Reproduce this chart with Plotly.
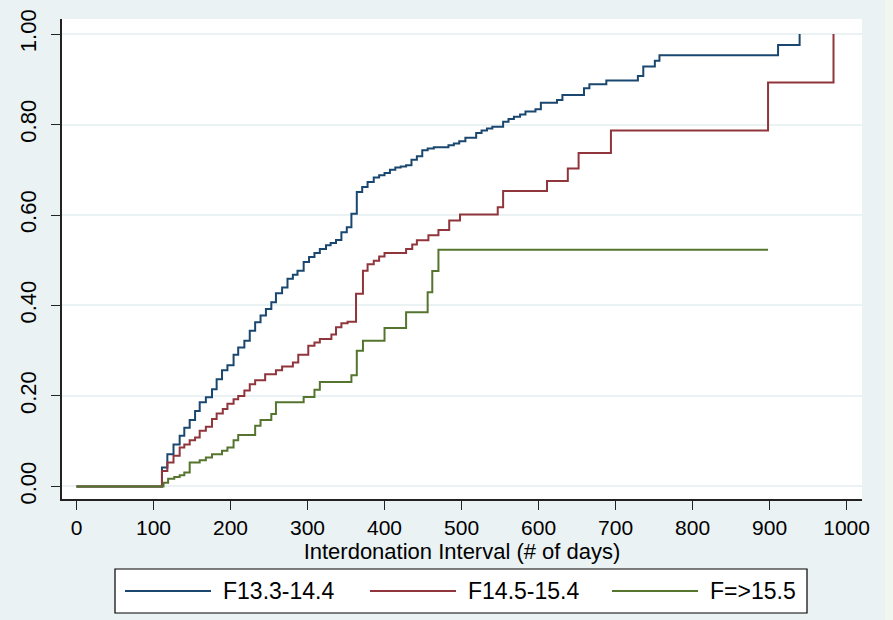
import plotly.graph_objects as go

# ---- data ----
days_a = [0, 111, 118, 126, 134, 140, 147, 154, 160, 168, 176, 182, 189, 196, 204, 210, 218, 225, 232,
          239, 246, 253, 259, 267, 274, 281, 287, 295, 302, 309, 316, 324, 330, 337, 344, 351, 357, 364,
          371, 378, 386, 393, 400, 407, 414, 421, 428, 435, 442, 449, 456, 464, 483, 490, 497, 505, 519,
          526, 533, 540, 554, 561, 568, 576, 583, 596, 603, 624, 631, 659, 666, 688, 729, 736, 751, 757,
          911, 939]
fail_a = [0, 0.042, 0.071, 0.093, 0.112, 0.130, 0.147, 0.167, 0.186, 0.197, 0.215, 0.237, 0.257, 0.268,
          0.291, 0.307, 0.322, 0.344, 0.363, 0.378, 0.392, 0.407, 0.427, 0.440, 0.459, 0.468, 0.477,
          0.496, 0.507, 0.516, 0.525, 0.533, 0.538, 0.545, 0.562, 0.573, 0.603, 0.651, 0.662, 0.673,
          0.683, 0.688, 0.693, 0.700, 0.705, 0.707, 0.710, 0.722, 0.730, 0.743, 0.747, 0.750, 0.754,
          0.758, 0.763, 0.771, 0.781, 0.787, 0.791, 0.795, 0.806, 0.812, 0.817, 0.822, 0.829, 0.834,
          0.848, 0.854, 0.865, 0.880, 0.889, 0.897, 0.907, 0.928, 0.941, 0.953, 0.976, 1.000]

days_b = [0, 111, 118, 126, 134, 140, 147, 154, 160, 168, 176, 182, 190, 196, 204, 210, 218, 225, 232,
          245, 259, 267, 281, 288, 301, 309, 316, 331, 337, 344, 352, 363, 372, 378, 386, 393, 400, 428,
          436, 442, 457, 470, 484, 498, 547, 554, 611, 638, 652, 694, 898, 983]
fail_b = [0, 0.034, 0.053, 0.068, 0.086, 0.093, 0.102, 0.108, 0.123, 0.132, 0.149, 0.161, 0.171, 0.183,
          0.193, 0.200, 0.212, 0.226, 0.235, 0.248, 0.257, 0.265, 0.274, 0.291, 0.311, 0.318, 0.326,
          0.336, 0.352, 0.361, 0.364, 0.426, 0.477, 0.491, 0.499, 0.508, 0.516, 0.525, 0.535, 0.544,
          0.555, 0.567, 0.588, 0.601, 0.617, 0.653, 0.675, 0.703, 0.737, 0.787, 0.893, 1.000]

days_c = [0, 113, 119, 127, 134, 140, 147, 160, 168, 176, 189, 196, 204, 210, 232, 239, 253, 259, 295,
          309, 316, 357, 364, 372, 400, 428, 456, 462, 470, 898]
fail_c = [0, 0.008, 0.017, 0.021, 0.025, 0.031, 0.053, 0.058, 0.064, 0.071, 0.079, 0.086, 0.102, 0.114,
          0.134, 0.147, 0.160, 0.186, 0.198, 0.214, 0.231, 0.246, 0.300, 0.322, 0.350, 0.385, 0.429,
          0.476, 0.523, 0.523]

series_names = ["F13.3-14.4", "F14.5-15.4", "F=>15.5"]
series_colors = ["#1A476F", "#90353B", "#55752F"]

x_ticks = [0, 100, 200, 300, 400, 500, 600, 700, 800, 900, 1000]
y_ticks = [0.0, 0.2, 0.4, 0.6, 0.8, 1.0]
x_title = "Interdonation Interval (# of days)"

FONT = "Liberation Sans, Arial, sans-serif"
BG = "#EAF2F4"

fig = go.Figure()
for xs, ys, name, col in zip([days_a, days_b, days_c], [fail_a, fail_b, fail_c], series_names, series_colors):
    fig.add_trace(go.Scatter(x=xs, y=ys, mode="lines", name=name, showlegend=False,
                             line=dict(color=col, width=2, shape="hv")))

W, H = 893, 620
ml, mr, mt, mb = 62, 31, 19, 121
pw, ph = W - ml - mr, H - mt - mb


def px(xp):
    return (xp - ml) / pw


def py(yp):
    return (H - mb - yp) / ph


shapes = [dict(type="rect", xref="paper", yref="paper", x0=px(885), x1=px(W) + 0.01,
               y0=py(H + 5), y1=py(-5), fillcolor="#F1F6EF", line=dict(width=0), layer="below")]
annotations = []

# legend box (bottom, one row)
shapes.append(dict(type="rect", xref="paper", yref="paper", x0=px(115), x1=px(807),
                   y0=py(613), y1=py(569), fillcolor="white", line=dict(color="black", width=1.2)))
leg_line_x = [125, 370, 612]
leg_y = 591
for lx, name, col in zip(leg_line_x, series_names, series_colors):
    shapes.append(dict(type="line", xref="paper", yref="paper", x0=px(lx), x1=px(lx + 86),
                       y0=py(leg_y), y1=py(leg_y), line=dict(color=col, width=2)))
    annotations.append(dict(xref="paper", yref="paper", x=px(lx + 96), y=py(leg_y), text=name,
                            showarrow=False, xanchor="left", yanchor="middle",
                            font=dict(size=23, family=FONT, color="black")))

fig.update_layout(
    width=W, height=H,
    margin=dict(l=ml, r=mr, t=mt, b=mb, pad=0, autoexpand=False),
    paper_bgcolor=BG, plot_bgcolor="white",
    font=dict(family=FONT, color="black", size=20),
    showlegend=False,
    xaxis=dict(range=[-18.8, 1020], tickmode="array", tickvals=x_ticks,
               ticktext=[str(v) for v in x_ticks], showgrid=False, zeroline=False,
               showline=True, linecolor="#222", linewidth=1.5, ticks="outside", ticklen=9,
               tickcolor="#222", tickwidth=1.3, tickfont=dict(size=21, family=FONT),
               title=dict(text=x_title, font=dict(size=22, family=FONT), standoff=0),
               automargin=False),
    yaxis=dict(range=[-0.0277, 1.0332], tickmode="array", tickvals=y_ticks,
               ticktext=["%.2f" % v for v in y_ticks], showgrid=True, gridcolor=BG, gridwidth=1.5,
               zeroline=False, showline=True, linecolor="#222", linewidth=1.5, ticks="outside",
               ticklen=9, tickcolor="#222", tickwidth=1.3, tickangle=-90, ticklabelstandoff=6,
               tickfont=dict(size=22, family=FONT), automargin=False),
    shapes=shapes,
    annotations=annotations,
)

fig.write_html("out.html")
